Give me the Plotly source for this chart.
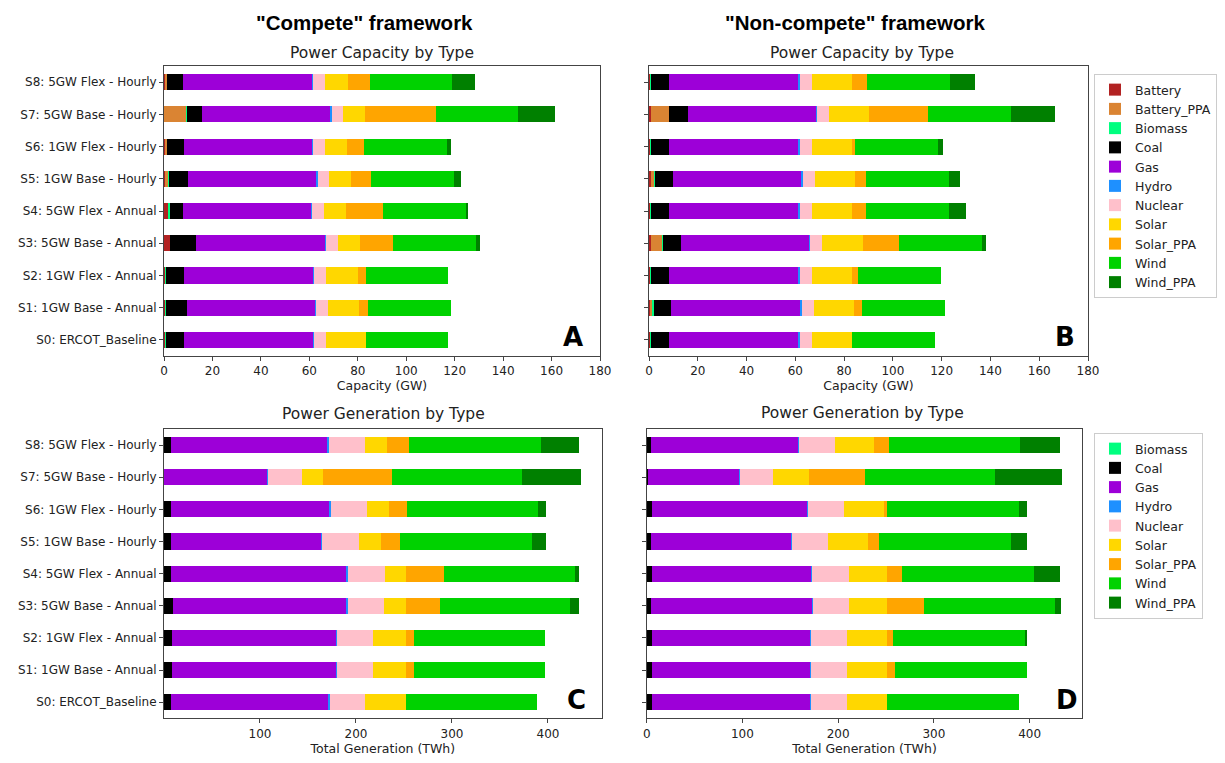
import plotly.graph_objects as go

# The page body adds an 8 px margin, so the figure is drawn from (8, 8).
OFF = 8
W, H = 1225 - OFF, 763 - OFF

scenarios = ["S0: ERCOT_Baseline", "S1: 1GW Base - Annual", "S2: 1GW Flex - Annual",
             "S3: 5GW Base - Annual", "S4: 5GW Flex - Annual", "S5: 1GW Base - Hourly",
             "S6: 1GW Flex - Hourly", "S7: 5GW Base - Hourly", "S8: 5GW Flex - Hourly"]

cap_types = ["Battery", "Battery_PPA", "Biomass", "Coal", "Gas", "Hydro", "Nuclear",
             "Solar", "Solar_PPA", "Wind", "Wind_PPA"]
gen_types = ["Biomass", "Coal", "Gas", "Hydro", "Nuclear", "Solar", "Solar_PPA", "Wind", "Wind_PPA"]

colors = {"Battery": "#B22222", "Battery_PPA": "#DA8433", "Biomass": "#00FF7F",
          "Coal": "#000000", "Gas": "#9D00D8", "Hydro": "#1E90FF", "Nuclear": "#FFC0CB",
          "Solar": "#FFD700", "Solar_PPA": "#FFA500", "Wind": "#00D200", "Wind_PPA": "#008000"}

# Panel A: "Compete" capacity (GW)
capA_battery = [0.8, 0.8, 0.8, 2.5, 1.9, 0.3, 0.3, 0.0, 0.3]
capA_battery_ppa = [0, 0, 0, 0, 0, 1.7, 1.0, 9.4, 1.0]
capA_biomass = [0.1, 0.1, 0.1, 0.1, 0.4, 0.1, 0.1, 0.1, 0.1]
capA_coal = [7.5, 8.6, 7.5, 10.8, 5.7, 7.8, 7.0, 6.1, 6.6]
capA_gas = [53.2, 52.9, 53.2, 53.1, 52.8, 53.2, 52.8, 53.3, 53.3]
capA_hydro = [0.4, 0.4, 0.4, 0.4, 0.4, 0.4, 0.4, 0.4, 0.4]
capA_nuclear = [4.8, 5.0, 4.8, 4.9, 5.0, 4.8, 5.0, 4.8, 4.8]
capA_solar = [16.5, 12.8, 13.2, 9.3, 8.9, 8.8, 8.8, 8.9, 9.3]
capA_solar_ppa = [0, 3.8, 3.5, 13.6, 15.5, 8.3, 7.3, 29.2, 9.3]
capA_wind = [34.1, 34.0, 33.9, 34.1, 34.1, 34.2, 34.1, 33.9, 34.0]
capA_wind_ppa = [0, 0, 0, 1.8, 0.7, 3.2, 1.8, 15.4, 9.4]

# Panel B: "Non-compete" capacity (GW)
capB_battery = [0.8, 0.7, 0.8, 0.8, 0.8, 0.7, 0.8, 0.8, 0.8]
capB_battery_ppa = [0, 0.8, 0, 4.8, 0, 1.7, 0, 7.5, 0]
capB_biomass = [0.1, 0.5, 0.1, 0.1, 0.1, 0.1, 0.1, 0.1, 0.1]
capB_coal = [7.4, 7.2, 7.4, 7.3, 7.4, 7.5, 7.4, 7.4, 7.4]
capB_gas = [53.2, 53.0, 53.2, 52.8, 53.2, 52.6, 53.2, 52.7, 53.2]
capB_hydro = [0.4, 0.4, 0.4, 0.4, 0.4, 0.4, 0.4, 0.4, 0.4]
capB_nuclear = [4.8, 4.9, 4.8, 4.8, 4.8, 5.0, 4.8, 4.8, 4.8]
capB_solar = [16.6, 16.5, 16.6, 16.7, 16.6, 16.6, 16.6, 16.7, 16.6]
capB_solar_ppa = [0, 3.4, 2.2, 15.0, 5.8, 4.3, 1.1, 24.0, 6.2]
capB_wind = [33.9, 34.0, 34.3, 34.0, 34.0, 34.0, 34.0, 34.0, 34.0]
capB_wind_ppa = [0, 0, 0, 1.4, 7.0, 4.5, 2.0, 17.9, 10.2]

# Panel C: "Compete" generation (TWh)
genC_biomass = [0.2, 0.2, 0.2, 0.2, 0.2, 0.2, 0.2, 0.2, 0.2]
genC_coal = [6.7, 8.5, 7.8, 9.5, 6.7, 6.7, 6.7, 0.1, 6.7]
genC_gas = [164.6, 170.5, 171.2, 180.6, 183.4, 157.0, 166.0, 107.3, 163.6]
genC_hydro = [1.0, 1.0, 1.0, 1.0, 1.0, 1.0, 1.0, 1.0, 1.0]
genC_nuclear = [37.2, 37.9, 37.9, 37.9, 39.1, 38.2, 37.9, 35.2, 37.9]
genC_solar = [42.0, 33.6, 33.6, 22.9, 21.7, 23.3, 22.2, 21.8, 22.9]
genC_solar_ppa = [0, 8.7, 8.7, 35.1, 39.3, 19.4, 19.5, 71.6, 23.3]
genC_wind = [137.2, 136.1, 136.1, 136.1, 137.1, 137.2, 136.4, 136.0, 137.1]
genC_wind_ppa = [0, 0, 0, 8.6, 3.8, 14.6, 7.7, 60.8, 39.2]

# Panel D: "Non-compete" generation (TWh)
genD_biomass = [0.2, 0.2, 0.2, 0.2, 0.2, 0.2, 0.2, 0.2, 0.2]
genD_coal = [5.0, 5.0, 5.0, 4.3, 5.0, 4.3, 5.0, 1.2, 4.3]
genD_gas = [165.2, 165.2, 165.2, 168.3, 166.6, 146.7, 162.4, 95.5, 153.3]
genD_hydro = [1.0, 1.0, 1.0, 1.0, 1.0, 1.0, 1.0, 1.0, 1.0]
genD_nuclear = [37.3, 38.0, 38.0, 37.7, 38.0, 37.0, 37.3, 34.2, 37.4]
genD_solar = [42.5, 41.8, 41.8, 39.7, 40.4, 41.5, 42.2, 37.2, 41.1]
genD_solar_ppa = [0, 8.4, 5.6, 38.0, 15.7, 11.5, 2.8, 58.2, 15.7]
genD_wind = [137.3, 137.6, 138.0, 136.9, 137.6, 137.9, 137.6, 136.6, 136.9]
genD_wind_ppa = [0, 0, 2.8, 6.7, 27.2, 17.5, 9.1, 69.3, 41.8]

capA = dict(zip(cap_types, [capA_battery, capA_battery_ppa, capA_biomass, capA_coal, capA_gas,
                            capA_hydro, capA_nuclear, capA_solar, capA_solar_ppa, capA_wind, capA_wind_ppa]))
capB = dict(zip(cap_types, [capB_battery, capB_battery_ppa, capB_biomass, capB_coal, capB_gas,
                            capB_hydro, capB_nuclear, capB_solar, capB_solar_ppa, capB_wind, capB_wind_ppa]))
genC = dict(zip(gen_types, [genC_biomass, genC_coal, genC_gas, genC_hydro, genC_nuclear,
                            genC_solar, genC_solar_ppa, genC_wind, genC_wind_ppa]))
genD = dict(zip(gen_types, [genD_biomass, genD_coal, genD_gas, genD_hydro, genD_nuclear,
                            genD_solar, genD_solar_ppa, genD_wind, genD_wind_ppa]))

fig = go.Figure()

def add_panel(data, types, xa, ya, legend_name, show):
    for t in types:
        fig.add_trace(go.Bar(
            y=scenarios, x=data[t], orientation="h", name=t, width=0.5,
            marker=dict(color=colors[t], line=dict(width=0)),
            xaxis=xa, yaxis=ya, showlegend=show, legend=legend_name,
            legendgroup=legend_name + t))

add_panel(capA, cap_types, "x", "y", "legend", True)
add_panel(capB, cap_types, "x2", "y2", "legend", False)
add_panel(genC, gen_types, "x3", "y3", "legend2", True)
add_panel(genD, gen_types, "x4", "y4", "legend2", False)

def px(x):
    return (x - OFF) / W

def py(y):
    return 1 - (y - OFF) / H

FONT = "DejaVu Sans, Verdana, sans-serif"
tickfont = dict(family=FONT, size=12, color="#222")
axcol = "#444"

def xax(domain, rng, tickvals, anchor, title):
    return dict(domain=domain, range=rng, tickvals=tickvals, anchor=anchor,
                showline=True, mirror=True, linecolor=axcol, linewidth=1,
                ticks="outside", ticklen=4, tickcolor=axcol, showgrid=False,
                zeroline=False, tickfont=tickfont, automargin=False,
                title=dict(text=title, font=dict(family=FONT, size=12.5, color="#222"), standoff=3))

def yax(domain, anchor, labels):
    return dict(domain=domain, range=[-0.5, 8.5], anchor=anchor, type="category",
                categoryorder="array", categoryarray=scenarios,
                showline=True, mirror=True, linecolor=axcol, linewidth=1,
                ticks="outside", ticklen=4, tickcolor=axcol, showgrid=False,
                zeroline=False, tickfont=tickfont, showticklabels=labels, automargin=False)

xA = [px(164), px(600)]
xB = [px(649), px(1088)]
xC = [px(164), px(601.7)]
xD = [px(646.7), px(1082.3)]
yTop = [py(356), py(66)]
yBot = [py(718.3), py(429)]

fig.update_layout(
    width=W, height=H, autosize=False,
    margin=dict(l=0, r=0, t=0, b=0, autoexpand=False),
    paper_bgcolor="white", plot_bgcolor="white",
    barmode="stack", bargap=0.5,
    font=dict(family=FONT, size=12, color="#222"),
    xaxis=xax(xA, [0, 180], list(range(0, 181, 20)), "y", "Capacity (GW)"),
    yaxis=yax(yTop, "x", True),
    xaxis2=xax(xB, [0, 180], list(range(0, 181, 20)), "y2", "Capacity (GW)"),
    yaxis2=yax(yTop, "x2", False),
    xaxis3=xax(xC, [0, 456], [100, 200, 300, 400], "y3", "Total Generation (TWh)"),
    yaxis3=yax(yBot, "x3", True),
    xaxis4=xax(xD, [0, 455], [0, 100, 200, 300, 400], "y4", "Total Generation (TWh)"),
    yaxis4=yax(yBot, "x4", False),
    legend=dict(x=px(1094), y=py(74), xanchor="left", yanchor="top",
                bordercolor="#cccccc", borderwidth=1, bgcolor="white",
                font=dict(family=FONT, size=12.5, color="#222"),
                traceorder="normal", tracegroupgap=0, itemwidth=30),
    legend2=dict(x=px(1094), y=py(433), xanchor="left", yanchor="top",
                 bordercolor="#cccccc", borderwidth=1, bgcolor="white",
                 font=dict(family=FONT, size=12.5, color="#222"),
                 traceorder="normal", tracegroupgap=0, itemwidth=30),
)

HEAD = "Liberation Sans Narrow, Arial Narrow, Liberation Sans, Arial, sans-serif"
ann = [
    dict(text='<b>"Compete" framework</b>', x=px(364), y=py(9), yanchor="top",
         font=dict(family=HEAD, size=20.5, color="black")),
    dict(text='<b>"Non-compete" framework</b>', x=px(855), y=py(9), yanchor="top",
         font=dict(family=HEAD, size=20.5, color="black")),
    dict(text="Power Capacity by Type", x=px(382), y=py(53), font=dict(family=FONT, size=15.5, color="#222")),
    dict(text="Power Capacity by Type", x=px(862), y=py(53), font=dict(family=FONT, size=15.5, color="#222")),
    dict(text="Power Generation by Type", x=px(383), y=py(414), font=dict(family=FONT, size=15.5, color="#222")),
    dict(text="Power Generation by Type", x=px(862), y=py(413), font=dict(family=FONT, size=15.5, color="#222")),
    dict(text="<b>A</b>", x=px(573), y=py(337), font=dict(family=FONT, size=26, color="black")),
    dict(text="<b>B</b>", x=px(1065), y=py(337), font=dict(family=FONT, size=26, color="black")),
    dict(text="<b>C</b>", x=px(576), y=py(700), font=dict(family=FONT, size=26, color="black")),
    dict(text="<b>D</b>", x=px(1067), y=py(700), font=dict(family=FONT, size=26, color="black")),
]
for a in ann:
    a.setdefault("yanchor", "middle")
    a.update(xref="paper", yref="paper", xanchor="center", showarrow=False)
fig.update_layout(annotations=ann)

fig.write_html("out.html")
